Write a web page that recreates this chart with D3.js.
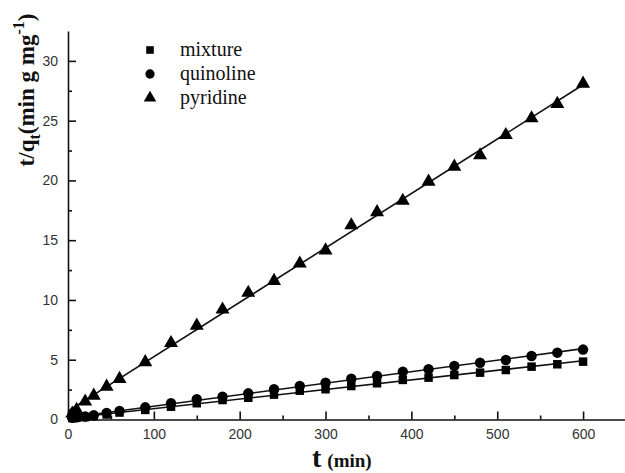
<!DOCTYPE html>
<html>
<head>
<meta charset="utf-8">
<script src="https://cdn.jsdelivr.net/npm/d3@7"></script>
<style>
  body { margin: 0; background: #fff; }
  svg { display: block; }
</style>
</head>
<body>
<div class="chart"></div>
<script>
// time points (min)
var times = [5, 10, 20, 30, 45, 60, 90, 120, 150, 180, 210, 240, 270, 300, 330, 360, 390, 420, 450, 480, 510, 540, 570, 600];

// t/qt values
var mixture   = [0.12, 0.15, 0.2, 0.28, 0.42, 0.58, 0.8, 1.07, 1.36, 1.63, 1.82, 2.08, 2.41, 2.53, 2.8, 3.03, 3.31, 3.5, 3.72, 3.92, 4.14, 4.42, 4.62, 4.84];
var quinoline = [0.14, 0.18, 0.25, 0.35, 0.55, 0.72, 1.02, 1.36, 1.69, 1.91, 2.19, 2.53, 2.8, 3.08, 3.41, 3.64, 4.0, 4.2, 4.48, 4.75, 4.98, 5.31, 5.59, 5.85];
var pyridine  = [0.5, 0.8, 1.5, 2.0, 2.75, 3.4, 4.8, 6.4, 7.85, 9.2, 10.6, 11.6, 13.05, 14.15, 16.25, 17.35, 18.3, 19.9, 21.15, 22.1, 23.8, 25.2, 26.4, 28.1];

var seriesNames = ["mixture", "quinoline", "pyridine"];
var seriesSymbols = [d3.symbolSquare, d3.symbolCircle, d3.symbolTriangle];
var seriesSizes = [72, 85, 85];

var xTicks = [0, 100, 200, 300, 400, 500, 600];
var yTicks = [0, 5, 10, 15, 20, 25, 30];

var width = 625, height = 473;

var svg = d3.select(".chart").append("svg")
    .attr("width", width)
    .attr("height", height);

var x = d3.scaleLinear().domain([0, 650]).range([68, 626]);
var y = d3.scaleLinear().domain([0, 32.5]).range([419.5, 31]);

// minor ticks
var xMinor = d3.range(50, 650, 100);
var yMinor = d3.range(2.5, 30, 5);

svg.append("g")
    .attr("transform", "translate(0," + y(0) + ")")
    .call(d3.axisBottom(x).tickValues(xMinor).tickSize(-4).tickFormat(""))
    .call(g => g.select(".domain").remove());

svg.append("g")
    .attr("transform", "translate(" + x(0) + ",0)")
    .call(d3.axisLeft(y).tickValues(yMinor).tickSize(-4).tickFormat(""))
    .call(g => g.select(".domain").remove());

var xAxis = svg.append("g")
    .attr("transform", "translate(0," + y(0) + ")")
    .call(d3.axisBottom(x).tickValues(xTicks).tickSize(-8).tickSizeOuter(0).tickPadding(10));

var yAxis = svg.append("g")
    .attr("transform", "translate(" + x(0) + ",0)")
    .call(d3.axisLeft(y).tickValues(yTicks).tickSize(-8).tickSizeOuter(0).tickPadding(10));

svg.selectAll(".tick line, .domain")
    .attr("stroke", "#111")
    .attr("stroke-width", 1.6);

svg.selectAll(".tick text")
    .attr("font-family", "'Liberation Sans', Arial, sans-serif")
    .attr("font-size", 14)
    .attr("fill", "#333");

// data + fitted lines
var allSeries = [mixture, quinoline, pyridine];

function fit(ys) {
  var mx = d3.mean(times), my = d3.mean(ys);
  var sxy = d3.sum(times, (t, i) => (t - mx) * (ys[i] - my));
  var sxx = d3.sum(times, t => (t - mx) * (t - mx));
  var b = sxy / sxx;
  return [my - b * mx, b];
}

allSeries.forEach(function (ys, k) {
  var ab = fit(ys);
  var line = d3.line().x(d => x(d)).y(d => y(ab[0] + ab[1] * d));
  svg.append("path")
      .attr("d", line([0, 600]))
      .attr("fill", "none")
      .attr("stroke", "#111")
      .attr("stroke-width", 1.6);

  svg.append("g").selectAll("path")
    .data(times)
    .join("path")
      .attr("transform", (t, i) => "translate(" + x(t) + "," + y(ys[i]) + ")")
      .attr("d", d3.symbol().type(seriesSymbols[k]).size(seriesSizes[k]))
      .attr("fill", "#000");
});

// legend
var legend = svg.append("g");
seriesNames.forEach(function (name, k) {
  var ly = 50 + k * 24;
  legend.append("path")
      .attr("transform", "translate(150," + ly + ")")
      .attr("d", d3.symbol().type(seriesSymbols[k]).size(seriesSizes[k] * 0.8))
      .attr("fill", "#000");
  legend.append("text")
      .attr("x", 180)
      .attr("y", ly + 6)
      .attr("font-family", "'Liberation Serif', 'Times New Roman', serif")
      .attr("font-size", 20)
      .attr("fill", "#111")
      .text(name);
});

// axis titles
var xt = svg.append("text")
    .attr("x", 312)
    .attr("y", 467)
    .attr("font-family", "'Liberation Serif', 'Times New Roman', serif")
    .attr("font-weight", "bold")
    .attr("fill", "#111");
xt.append("tspan").attr("font-size", 28).text("t");
xt.append("tspan").attr("font-size", 19).attr("dx", 6).text("(min)");

var yt = svg.append("text")
    .attr("transform", "translate(34,90) rotate(-90)")
    .attr("text-anchor", "middle")
    .attr("font-family", "'Liberation Serif', 'Times New Roman', serif")
    .attr("font-weight", "bold")
    .attr("font-size", 23)
    .attr("fill", "#111");
yt.append("tspan").text("t/q");
yt.append("tspan").attr("font-size", 16).attr("dy", 6).text("t");
yt.append("tspan").attr("dy", -6).text("(min g mg");
yt.append("tspan").attr("font-size", 16).attr("dy", -10).text("-1");
yt.append("tspan").attr("dy", 10).text(")");
</script>
</body>
</html>
